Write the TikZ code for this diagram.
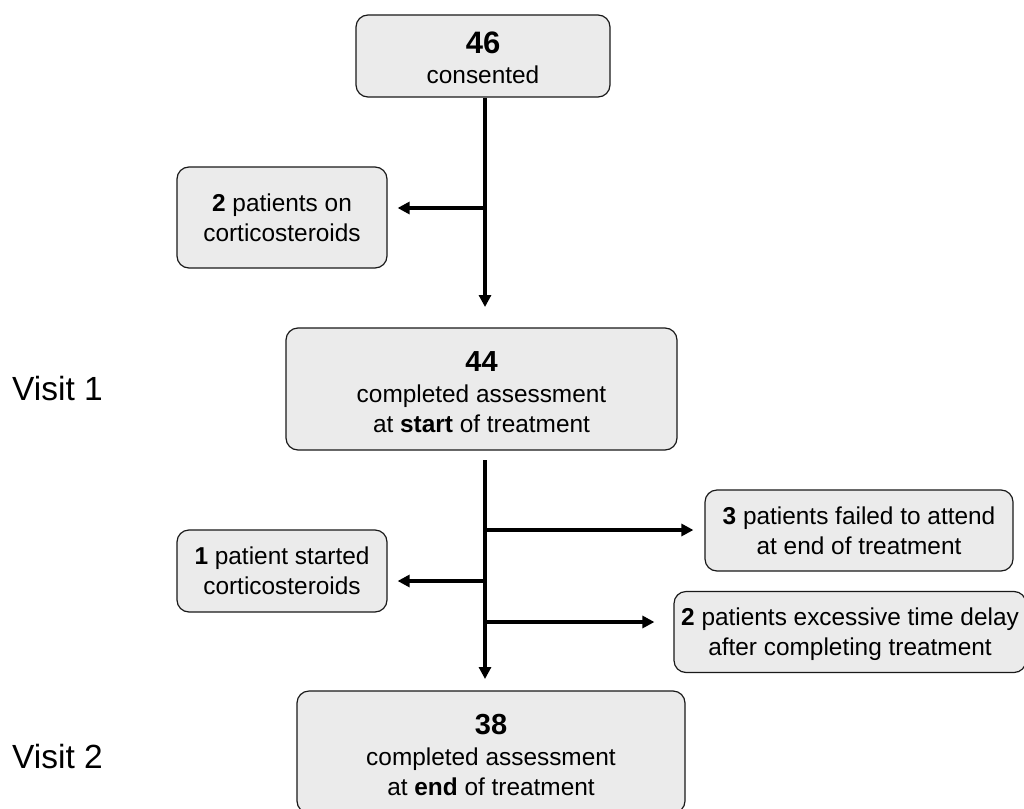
\documentclass[tikz,border=0pt]{standalone}
\usepackage{fontspec}
\setmainfont{Liberation Sans}
\usetikzlibrary{arrows.meta}
\tikzset{
  box/.style={draw=black!90, line width=1.2pt, fill=black!8, rounded corners=12pt,
    inner sep=0pt, align=center, font=\fontsize{24.4}{30}\selectfont},
  flow/.style={line width=3.6pt, -{Triangle[length=12pt,width=12pt]}},
  visit/.style={anchor=base west, inner sep=0pt, font=\fontsize{33.5}{40}\selectfont},
}
% number line: #1 font size, #2 strut height, #3 number
\newcommand{\bignum}[3]{{\fontsize{#1}{31}\selectfont\bfseries\rule{0pt}{#2}#3}}
\begin{document}
\begin{tikzpicture}[x=1pt,y=-1pt]
\useasboundingbox (0,0) rectangle (1024,808);
\clip (0,0) rectangle (1024,808);
% boxes
\node[box, minimum width=254pt, minimum height=82pt] (b46) at (483,56) {\bignum{31}{25pt}{46}\\consented};
\node[box, minimum width=210pt, minimum height=101pt] (c1) at (282,217.5) {\textbf{2} patients on\\corticosteroids};
\node[box, minimum width=391pt, minimum height=122pt] (b44) at (481.5,389) {\bignum{29}{26pt}{44}\\[1pt]completed assessment\\at \textbf{start} of treatment};
\node[box, minimum width=210pt, minimum height=82pt] (c2) at (282,571) {\textbf{1} patient started\\corticosteroids};
\node[box, minimum width=308pt, minimum height=81pt] (fail) at (859,530.5) {\textbf{3} patients failed to attend\\at end of treatment};
\node[box, minimum width=352pt, minimum height=81pt] (delay) at (850,632) {\rule{0pt}{22pt}\textbf{2} patients excessive time delay\\after completing treatment};
\node[box, minimum width=388pt, minimum height=122pt] (b38) at (491,752) {\bignum{29}{26pt}{38}\\[1pt]completed assessment\\at \textbf{end} of treatment};
% visit labels
\node[visit] (v1) at (12,400) {Visit 1};
\node[visit] (v2) at (12,768) {Visit 2};
% connectors
\coordinate (t1e) at (485,307);
\coordinate (j1) at (485,208);
\coordinate (t2s) at (485,460);
\coordinate (t2e) at (485,679);
\coordinate (j2) at (485,530);
\coordinate (j3) at (485,581);
\coordinate (j4) at (485,622);
\draw[flow] (b46.south -| t1e) -- (t1e);
\draw[flow] (j1) -- ([xshift=10pt]c1.east |- j1);
\draw[flow] (t2s) -- (t2e);
\draw[flow] (j2) -- ([xshift=-11pt]fail.west |- j2);
\draw[flow] (j3) -- ([xshift=10pt]c2.east |- j3);
\draw[flow] (j4) -- ([xshift=-19pt]delay.west |- j4);
\end{tikzpicture}
\end{document}
